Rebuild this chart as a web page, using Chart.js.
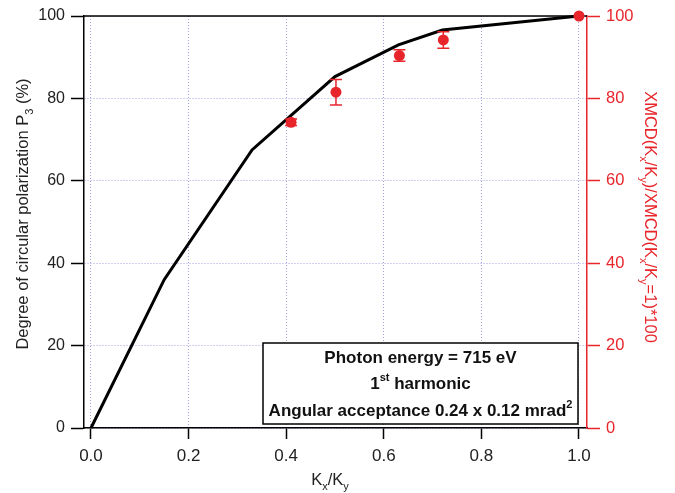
<!DOCTYPE html>
<html>
<head>
<meta charset="utf-8">
<script src="https://cdn.jsdelivr.net/npm/chart.js@4.4.0/dist/chart.umd.min.js"></script>
<style>
  html, body { margin: 0; padding: 0; background: #fff; }
  #wrap { width: 675px; height: 493px; }
</style>
</head>
<body>
<div id="wrap"><canvas id="chart" width="675" height="493"></canvas></div>
<script>
// calculated P3 curve (black line)
const curveX = [0, 0.15, 0.33, 0.5, 0.63, 0.72, 1.0];
const curveY = [0, 36, 67.5, 85.3, 93, 96.6, 100];

// measured XMCD ratio (red dots) with error
const xmcdX = [0.41, 0.502, 0.632, 0.722, 1.0];
const xmcdY = [74.2, 81.5, 90.4, 94.2, 100];
const xmcdErr = [0.8, 3.1, 1.4, 2.0, 0];

const xTicks = [0, 0.2, 0.4, 0.6, 0.8, 1.0];
const yTicks = [0, 20, 40, 60, 80, 100];

const xTitle = "K_{x}/K_{y}";
const yTitle = "Degree of circular polarization P_{3} (%)";
const y2Title = "XMCD(K_{x}/K_{y})/XMCD(K_{x}/K_{y}=1)*100";
const boxLines = ["Photon energy = 715 eV", "1^{st} harmonic", "Angular acceptance 0.24 x 0.12 mrad^{2}"];

const RED = "#e8252b";
const FONT = '"Liberation Sans", Arial, sans-serif';
const gridColor = "rgba(130,130,215,0.75)";

// split "K_{x}" style strings into normal / sub / sup pieces
function parseRich(str) {
	const parts = [];
	const re = /([_^])\{([^}]*)\}/g;
	let last = 0, m;
	while ((m = re.exec(str))) {
		if (m.index > last) parts.push({ t: str.slice(last, m.index), k: "" });
		parts.push({ t: m[2], k: m[1] });
		last = re.lastIndex;
	}
	if (last < str.length) parts.push({ t: str.slice(last), k: "" });
	return parts;
}

// draw centred at x, vertically middle at y
function drawRich(ctx, str, x, y, size, weight, color) {
	const parts = parseRich(str);
	const big = weight + " " + size + "px " + FONT;
	const small = weight + " " + Math.round(size * 0.66) + "px " + FONT;
	let w = 0;
	parts.forEach((p) => {
		ctx.font = p.k ? small : big;
		p.w = ctx.measureText(p.t).width;
		w += p.w;
	});
	let cx = x - w / 2;
	const base = y + size * 0.36;
	ctx.fillStyle = color;
	ctx.textBaseline = "alphabetic";
	ctx.textAlign = "left";
	parts.forEach((p) => {
		ctx.font = p.k ? small : big;
		let dy = 0;
		if (p.k === "_") dy = size * 0.3;
		if (p.k === "^") dy = -size * 0.45;
		ctx.fillText(p.t, cx, base + dy);
		cx += p.w;
	});
}

const errorBars = {
	id: "errorBars",
	afterDatasetsDraw(chart) {
		const ctx = chart.ctx;
		const meta = chart.getDatasetMeta(0);
		const ys = chart.scales.y2;
		ctx.save();
		ctx.strokeStyle = RED;
		ctx.lineWidth = 1.5;
		meta.data.forEach((pt, i) => {
			const e = xmcdErr[i];
			if (!e) return;
			const yt = ys.getPixelForValue(xmcdY[i] + e);
			const yb = ys.getPixelForValue(xmcdY[i] - e);
			ctx.beginPath();
			ctx.moveTo(pt.x, yt); ctx.lineTo(pt.x, yb);
			ctx.moveTo(pt.x - 6, yt); ctx.lineTo(pt.x + 6, yt);
			ctx.moveTo(pt.x - 6, yb); ctx.lineTo(pt.x + 6, yb);
			ctx.stroke();
		});
		ctx.restore();
	}
};

const decorations = {
	id: "decorations",
	beforeDatasetsDraw(chart) {
		// top frame line
		const ctx = chart.ctx;
		const a = chart.chartArea;
		ctx.save();
		ctx.strokeStyle = "#000";
		ctx.lineWidth = 1.5;
		ctx.beginPath();
		ctx.moveTo(a.left, a.top);
		ctx.lineTo(a.right, a.top);
		ctx.stroke();
		ctx.restore();
	},
	afterDraw(chart) {
		const ctx = chart.ctx;
		ctx.save();

		// axis titles
		drawRich(ctx, xTitle, 330, 479, 16.5, "normal", "#222");

		ctx.save();
		ctx.translate(22, 214);
		ctx.rotate(-Math.PI / 2);
		drawRich(ctx, yTitle, 0, 0, 16.5, "normal", "#222");
		ctx.restore();

		ctx.save();
		ctx.translate(651, 217);
		ctx.rotate(Math.PI / 2);
		drawRich(ctx, y2Title, 0, 0, 16.5, "normal", RED);
		ctx.restore();

		// annotation box
		const bx = 263, by = 343, bw = 315, bh = 81;
		ctx.fillStyle = "#fff";
		ctx.fillRect(bx, by, bw, bh);
		ctx.strokeStyle = "#000";
		ctx.lineWidth = 1.5;
		ctx.strokeRect(bx, by, bw, bh);
		const lineYs = [357, 383, 410];
		boxLines.forEach((s, i) => drawRich(ctx, s, bx + bw / 2, lineYs[i], 17, "bold", "#111"));

		ctx.restore();
	}
};

new Chart(document.getElementById("chart"), {
	type: "scatter",
	data: {
		datasets: [
			{
				label: "XMCD",
				data: xmcdX.map((x, i) => ({ x, y: xmcdY[i] })),
				yAxisID: "y2",
				showLine: false,
				pointRadius: 5.5,
				pointBackgroundColor: RED,
				pointBorderWidth: 0,
				clip: false,
				order: 1
			},
			{
				label: "P3",
				data: curveX.map((x, i) => ({ x, y: curveY[i] })),
				yAxisID: "y",
				showLine: true,
				borderColor: "#000",
				borderWidth: 3,
				pointRadius: 0,
				tension: 0,
				fill: false,
				clip: false,
				order: 2
			}
		]
	},
	options: {
		responsive: false,
		animation: false,
		layout: { padding: { top: 16, left: 0, right: 0, bottom: 0 } },
		plugins: { legend: { display: false }, tooltip: { enabled: false } },
		scales: {
			x: {
				type: "linear",
				min: -0.0143,
				max: 1.0164,
				afterBuildTicks: (s) => { s.ticks = xTicks.map((v) => ({ value: v })); },
				afterFit: (s) => { s.height = 65; },
				ticks: {
					callback: (v) => Number(v).toFixed(1),
					color: "#222",
					font: { family: FONT, size: 17 },
					padding: 7,
					maxRotation: 0,
					autoSkip: false
				},
				grid: { color: gridColor, lineWidth: 1, tickColor: "#000", tickLength: 11, tickWidth: 1.5 },
				border: { color: "#000", width: 1.5, dash: [1, 2] }
			},
			y: {
				type: "linear",
				position: "left",
				min: 0,
				max: 100,
				afterBuildTicks: (s) => { s.ticks = yTicks.map((v) => ({ value: v })); },
				afterFit: (s) => { s.width = 84; },
				ticks: { color: "#222", font: { family: FONT, size: 16 }, padding: 6 },
				grid: { color: gridColor, lineWidth: 1, tickColor: "#000", tickLength: 13, tickWidth: 1.5 },
				border: { color: "#000", width: 1.5, dash: [1, 2] }
			},
			y2: {
				type: "linear",
				position: "right",
				min: 0,
				max: 100,
				afterBuildTicks: (s) => { s.ticks = yTicks.map((v) => ({ value: v })); },
				afterFit: (s) => { s.width = 88; },
				ticks: { color: RED, font: { family: FONT, size: 16.5 }, padding: 6 },
				grid: { drawOnChartArea: false, tickColor: RED, tickLength: 13, tickWidth: 1.5 },
				border: { color: RED, width: 1.5 }
			}
		}
	},
	plugins: [decorations, errorBars]
});
</script>
</body>
</html>
